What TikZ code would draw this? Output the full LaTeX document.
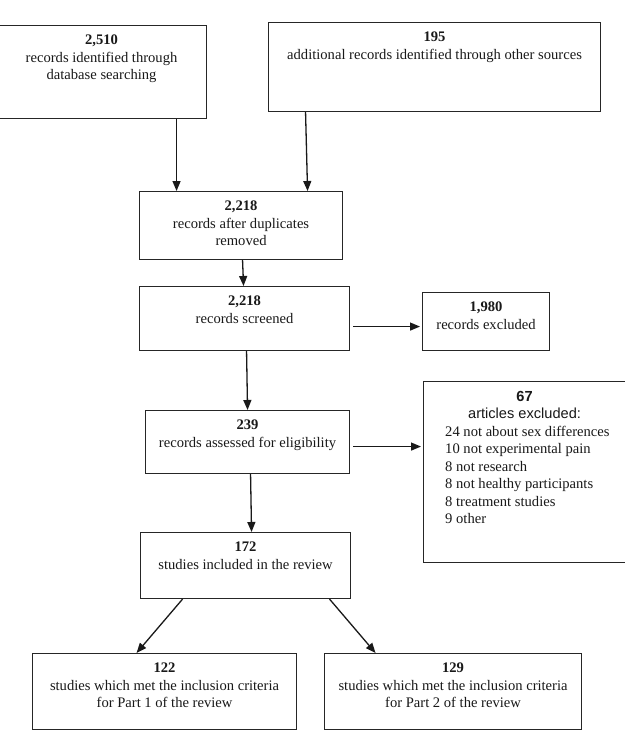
\documentclass[tikz,border=0pt]{standalone}
\usepackage{fontspec}
\setmainfont{Liberation Serif}
\setsansfont{Liberation Sans}
\usetikzlibrary{arrows.meta,calc}
\newcommand\mkbox[6]{%
  \node[boxst, anchor=north west, minimum width={((#4)-(#2))*1pt}, minimum height={((#5)-(#3))*1pt}] (#1) at (#2,#3) {};
  \node[txt, anchor=north] (#1t) at ($(#1.north)+(0,10)$) {#6};
}
\begin{document}
\begin{tikzpicture}[x=1pt,y=-1pt,
  boxst/.style={draw=black!85, line width=1.1pt, rectangle, inner sep=0pt},
  txt/.style={inner sep=0pt, align=center, font=\fontsize{14.6}{17.4}\selectfont, text=black!90},
  arr/.style={draw=black!90, line width=1.3pt, -{Triangle[length=10pt,width=8pt]}}]
\useasboundingbox (0,0) rectangle (624,736);
\fill[white] (0,0) rectangle (624,736);
\mkbox{b1}{-4}{25}{206}{118}{\textbf{2,510}\\records identified through\\database searching}
\mkbox{b2}{268}{22}{600}{111}{\textbf{195}\\additional records identified through other sources}
\mkbox{b3}{139}{191}{342}{259}{\textbf{2,218}\\records after duplicates\\removed}
\mkbox{b4}{139}{286}{349}{350}{\textbf{2,218}\\records screened}
\mkbox{b5}{422}{292}{549}{350}{\textbf{1,980}\\records excluded}
\mkbox{b6}{145}{410}{349}{473}{\textbf{239}\\records assessed for eligibility}
\mkbox{b7}{423}{381}{625}{562}{\sffamily\bfseries 67\\\sffamily articles excluded:}
\node[txt, align=left, anchor=north west] (b7l) at (445,426) {24 not about sex differences\\10 not experimental pain\\8 not research\\8 not healthy participants\\8 treatment studies\\9 other};
\mkbox{b8}{140}{532}{350}{598}{\textbf{172}\\studies included in the review}
\mkbox{b9}{32}{653}{296}{729}{\textbf{122}\\studies which met the inclusion criteria\\for Part 1 of the review}
\mkbox{b10}{324}{653}{581}{729}{\textbf{129}\\studies which met the inclusion criteria\\for Part 2 of the review}

\draw[arr] ([xshift=75pt]b1.south) -- ([xshift=-64.5pt]b3.north);
\draw[arr] ([xshift=-129pt]b2.south) -- ([xshift=66.5pt]b3.north);
\draw[arr] ([xshift=1.5pt]b3.south) -- ([xshift=-1pt]b4.north);
\draw[arr] ([xshift=3pt,yshift=-8pt]b4.east) -- ([xshift=-2pt,yshift=-5pt]b5.west);
\draw[arr] ([xshift=2pt]b4.south) -- (b6.north);
\draw[arr] ([xshift=3pt,yshift=-4.5pt]b6.east) -- ([xshift=-2pt,yshift=25.5pt]b7.west);
\draw[arr] ([xshift=3pt]b6.south) -- ([xshift=6pt]b8.north);
\draw[arr] ([xshift=-63pt]b8.south) -- ([xshift=-28pt]b9.north);
\draw[arr] ([xshift=84pt]b8.south) -- ([xshift=-77.5pt]b10.north);
\end{tikzpicture}
\end{document}
